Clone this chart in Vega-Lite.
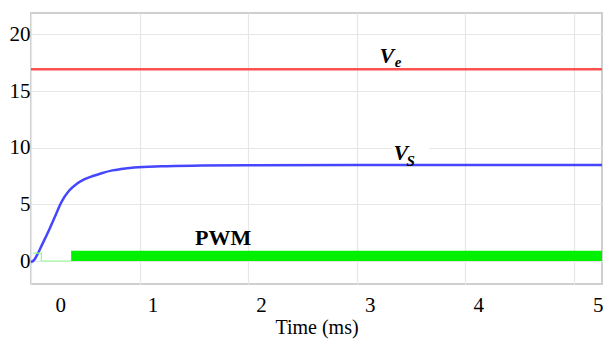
{
  "$schema": "https://vega.github.io/schema/vega-lite/v6.json",
  "width": 571,
  "height": 271,
  "autosize": {"type": "none"},
  "padding": {"left": 31, "top": 13, "right": 1, "bottom": 61},
  "background": "white",
  "config": {
    "view": {"stroke": "#cfcfcf", "strokeWidth": 2},
    "axis": {"labelFont": "Liberation Serif", "titleFont": "Liberation Serif", "labelColor": "black", "titleColor": "black", "ticks": false, "domain": false, "gridColor": "#e6e6e6", "gridWidth": 1.2}
  },
  "datasets": {
    "ve": [{"t": 0, "v": 16.92}, {"t": 5.26, "v": 16.92}],
    "vs": [
      {"t": 0.0, "v": -0.1}, {"t": 0.03, "v": 0.1}, {"t": 0.06, "v": 0.6}, {"t": 0.10, "v": 1.4},
      {"t": 0.16, "v": 2.6}, {"t": 0.22, "v": 3.9}, {"t": 0.28, "v": 5.2}, {"t": 0.35, "v": 6.2},
      {"t": 0.42, "v": 6.8}, {"t": 0.49, "v": 7.2}, {"t": 0.57, "v": 7.5}, {"t": 0.65, "v": 7.75},
      {"t": 0.75, "v": 8.0}, {"t": 0.83, "v": 8.12}, {"t": 0.95, "v": 8.25}, {"t": 1.2, "v": 8.36},
      {"t": 1.57, "v": 8.42}, {"t": 2.0, "v": 8.45}, {"t": 3.0, "v": 8.47}, {"t": 5.26, "v": 8.47}
    ],
    "pwmthin": [{"t": 0.02, "v": 0.7}, {"t": 0.095, "v": 0.7}, {"t": 0.095, "v": 0.0}, {"t": 0.37, "v": 0.0}],
    "pwmband": [{"t0": 0.37, "t1": 5.26, "lo": 0.0, "hi": 0.91}],
    "mask": [{"t0": 3.33, "t1": 3.67, "lo": 8.6, "hi": 10.4}],
    "mainlbl": [{"t": 3.21, "v": 17.5, "txt": "V"}, {"t": 3.34, "v": 8.9, "txt": "V"}],
    "sublbl": [{"t": 3.35, "v": 17.1, "txt": "e"}, {"t": 3.46, "v": 8.35, "txt": "S"}],
    "pwmlbl": [{"t": 1.77, "v": 1.4, "txt": "PWM"}]
  },
  "layer": [
    {
      "data": {"name": "mask"},
      "mark": {"type": "rect", "color": "white"},
      "encoding": {
        "x": {"field": "t0", "type": "quantitative", "scale": {"domain": [0, 5.26], "nice": false, "zero": false},
          "axis": {"values": [0, 1, 2, 3, 4, 5], "format": "d", "title": "Time (ms)", "titleFontSize": 20, "titleFontWeight": "normal", "titlePadding": 2,
            "labelFontSize": 21, "labelPadding": 10,
            "labelOffset": {"condition": {"test": "datum.value == 0 || datum.value == 5", "value": 24}, "value": 13}}},
        "x2": {"field": "t1"},
        "y": {"field": "lo", "type": "quantitative", "scale": {"domain": [-2.03, 21.89], "nice": false, "zero": false},
          "axis": {"values": [0, 5, 10, 15, 20], "format": "d", "title": null, "labelFontSize": 21, "labelPadding": 1}},
        "y2": {"field": "hi"}
      }
    },
    {
      "data": {"name": "ve"},
      "mark": {"type": "line", "color": "#ff5050", "strokeWidth": 2.5},
      "encoding": {"x": {"field": "t", "type": "quantitative"}, "y": {"field": "v", "type": "quantitative"}}
    },
    {
      "data": {"name": "vs"},
      "mark": {"type": "line", "color": "#4646ff", "strokeWidth": 2.5, "interpolate": "monotone"},
      "encoding": {"x": {"field": "t", "type": "quantitative"}, "y": {"field": "v", "type": "quantitative"}}
    },
    {
      "data": {"name": "pwmthin"},
      "mark": {"type": "line", "color": "#8cff8c", "strokeWidth": 1.2},
      "encoding": {"x": {"field": "t", "type": "quantitative"}, "y": {"field": "v", "type": "quantitative"}}
    },
    {
      "data": {"name": "pwmband"},
      "mark": {"type": "rect", "color": "#00f000"},
      "encoding": {"x": {"field": "t0", "type": "quantitative"}, "x2": {"field": "t1"}, "y": {"field": "lo", "type": "quantitative"}, "y2": {"field": "hi"}}
    },
    {
      "data": {"name": "mainlbl"},
      "mark": {"type": "text", "align": "left", "baseline": "alphabetic", "font": "Liberation Serif", "fontSize": 22, "fontStyle": "italic", "fontWeight": "bold", "color": "black"},
      "encoding": {"x": {"field": "t", "type": "quantitative"}, "y": {"field": "v", "type": "quantitative"}, "text": {"field": "txt"}}
    },
    {
      "data": {"name": "sublbl"},
      "mark": {"type": "text", "align": "left", "baseline": "alphabetic", "font": "Liberation Serif", "fontSize": 15, "fontStyle": "italic", "fontWeight": "bold", "color": "black"},
      "encoding": {"x": {"field": "t", "type": "quantitative"}, "y": {"field": "v", "type": "quantitative"}, "text": {"field": "txt"}}
    },
    {
      "data": {"name": "pwmlbl"},
      "mark": {"type": "text", "align": "center", "baseline": "alphabetic", "font": "Liberation Serif", "fontSize": 22, "fontWeight": "bold", "color": "black"},
      "encoding": {"x": {"field": "t", "type": "quantitative"}, "y": {"field": "v", "type": "quantitative"}, "text": {"field": "txt"}}
    }
  ]
}
